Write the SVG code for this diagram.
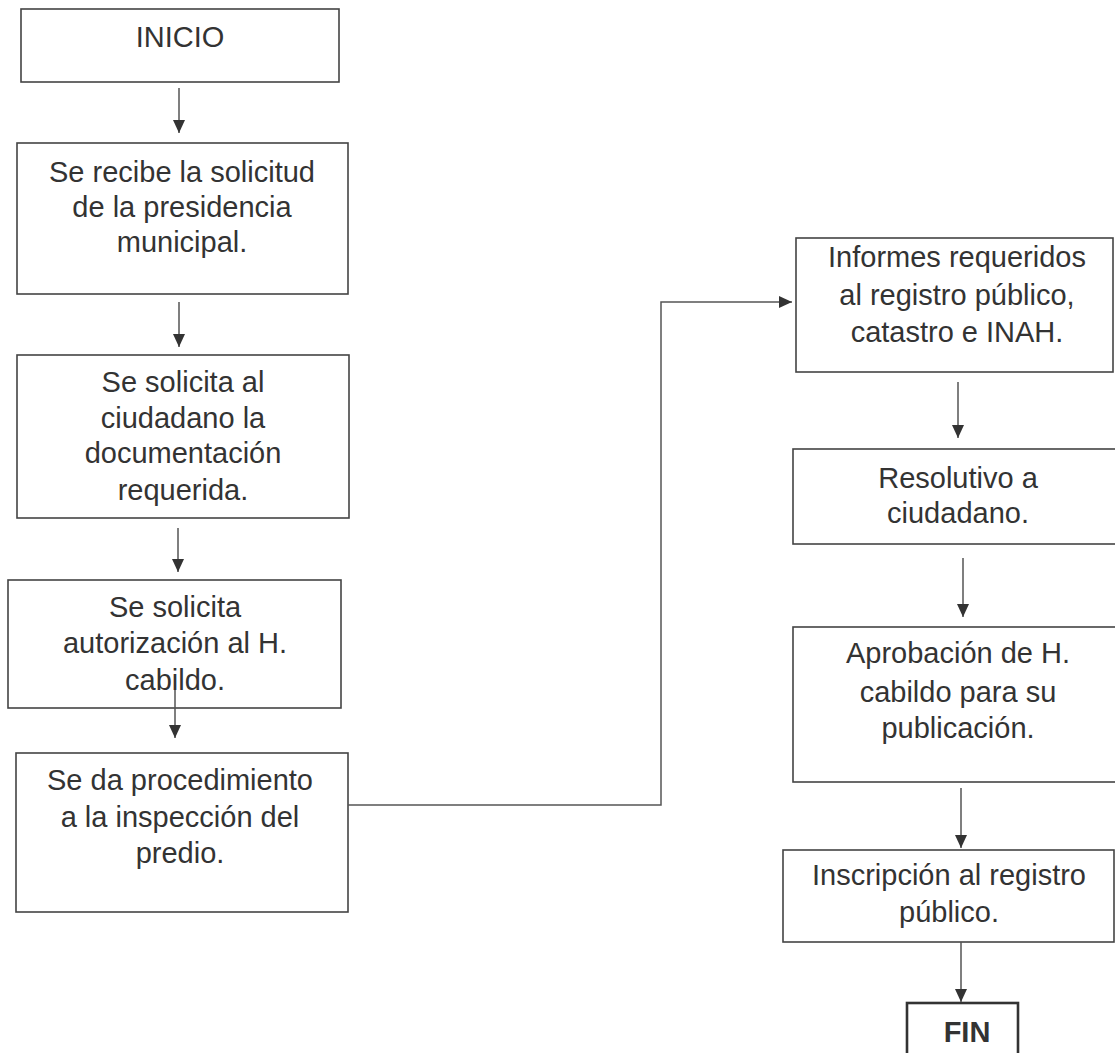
<svg xmlns="http://www.w3.org/2000/svg" width="1115" height="1053" viewBox="0 0 1115 1053">
  <style>
    .box { fill: #ffffff; stroke: #444444; stroke-width: 1.6; }
    .fin { fill: #ffffff; stroke: #333333; stroke-width: 2.6; }
    .t { font-family: "Liberation Sans", Arial, sans-serif; font-size: 29px; fill: #333333; text-anchor: middle; }
    .tb { font-family: "Liberation Sans", Arial, sans-serif; font-size: 29px; font-weight: bold; fill: #333333; text-anchor: middle; }
    .c { fill: none; stroke: #555555; stroke-width: 1.5; }
  </style>
  <defs>
    <marker id="ah" markerUnits="userSpaceOnUse" markerWidth="14" markerHeight="12" refX="13" refY="6" orient="auto">
      <path d="M0,0 L13,6 L0,12 z" fill="#333333"/>
    </marker>
  </defs>
  <rect width="1115" height="1053" fill="#ffffff"/>

  <g id="n1">
    <rect class="box" x="21" y="9" width="318" height="73"/>
    <text class="t" x="180" y="47">INICIO</text>
  </g>
  <g id="n2">
    <rect class="box" x="17" y="143" width="331" height="151"/>
    <text class="t" x="182" y="182">Se recibe la solicitud</text>
    <text class="t" x="182" y="217">de la presidencia</text>
    <text class="t" x="182" y="252">municipal.</text>
  </g>
  <g id="n3">
    <rect class="box" x="17" y="355" width="332" height="163"/>
    <text class="t" x="183" y="392">Se solicita al</text>
    <text class="t" x="183" y="428">ciudadano la</text>
    <text class="t" x="183" y="463">documentación</text>
    <text class="t" x="183" y="500">requerida.</text>
  </g>
  <g id="n4">
    <rect class="box" x="8" y="580" width="333" height="128"/>
    <text class="t" x="175" y="617">Se solicita</text>
    <text class="t" x="175" y="653">autorización al H.</text>
    <text class="t" x="175" y="690">cabildo.</text>
  </g>
  <g id="n5">
    <rect class="box" x="16" y="753" width="332" height="159"/>
    <text class="t" x="180" y="790">Se da procedimiento</text>
    <text class="t" x="180" y="827">a la inspección del</text>
    <text class="t" x="180" y="863">predio.</text>
  </g>
  <g id="n6">
    <rect class="box" x="796" y="238" width="317" height="134"/>
    <text class="t" x="957" y="267">Informes requeridos</text>
    <text class="t" x="957" y="305">al registro público,</text>
    <text class="t" x="957" y="342">catastro e INAH.</text>
  </g>
  <g id="n7">
    <rect class="box" x="793" y="449" width="330" height="95"/>
    <text class="t" x="958" y="488">Resolutivo a</text>
    <text class="t" x="958" y="523">ciudadano.</text>
  </g>
  <g id="n8">
    <rect class="box" x="793" y="627" width="330" height="155"/>
    <text class="t" x="958" y="663">Aprobación de H.</text>
    <text class="t" x="958" y="702">cabildo para su</text>
    <text class="t" x="958" y="738">publicación.</text>
  </g>
  <g id="n9">
    <rect class="box" x="783" y="850" width="331" height="92"/>
    <text class="t" x="949" y="885">Inscripción al registro</text>
    <text class="t" x="949" y="922">público.</text>
  </g>
  <g id="n10">
    <rect class="fin" x="907" y="1003" width="111" height="60"/>
    <text class="tb" x="967" y="1042">FIN</text>
  </g>

  <g id="connectors">
    <line class="c" x1="179" y1="88" x2="179" y2="133" marker-end="url(#ah)"/>
    <line class="c" x1="179" y1="302" x2="179" y2="347" marker-end="url(#ah)"/>
    <line class="c" x1="178" y1="528" x2="178" y2="572" marker-end="url(#ah)"/>
    <line class="c" x1="175" y1="690" x2="175" y2="738" marker-end="url(#ah)"/>
    <polyline class="c" points="348,805 661,805 661,302 792,302" marker-end="url(#ah)"/>
    <line class="c" x1="958" y1="382" x2="958" y2="438" marker-end="url(#ah)"/>
    <line class="c" x1="963" y1="558" x2="963" y2="617" marker-end="url(#ah)"/>
    <line class="c" x1="961" y1="788" x2="961" y2="848" marker-end="url(#ah)"/>
    <line class="c" x1="961" y1="942" x2="961" y2="1002" marker-end="url(#ah)"/>
  </g>
</svg>
